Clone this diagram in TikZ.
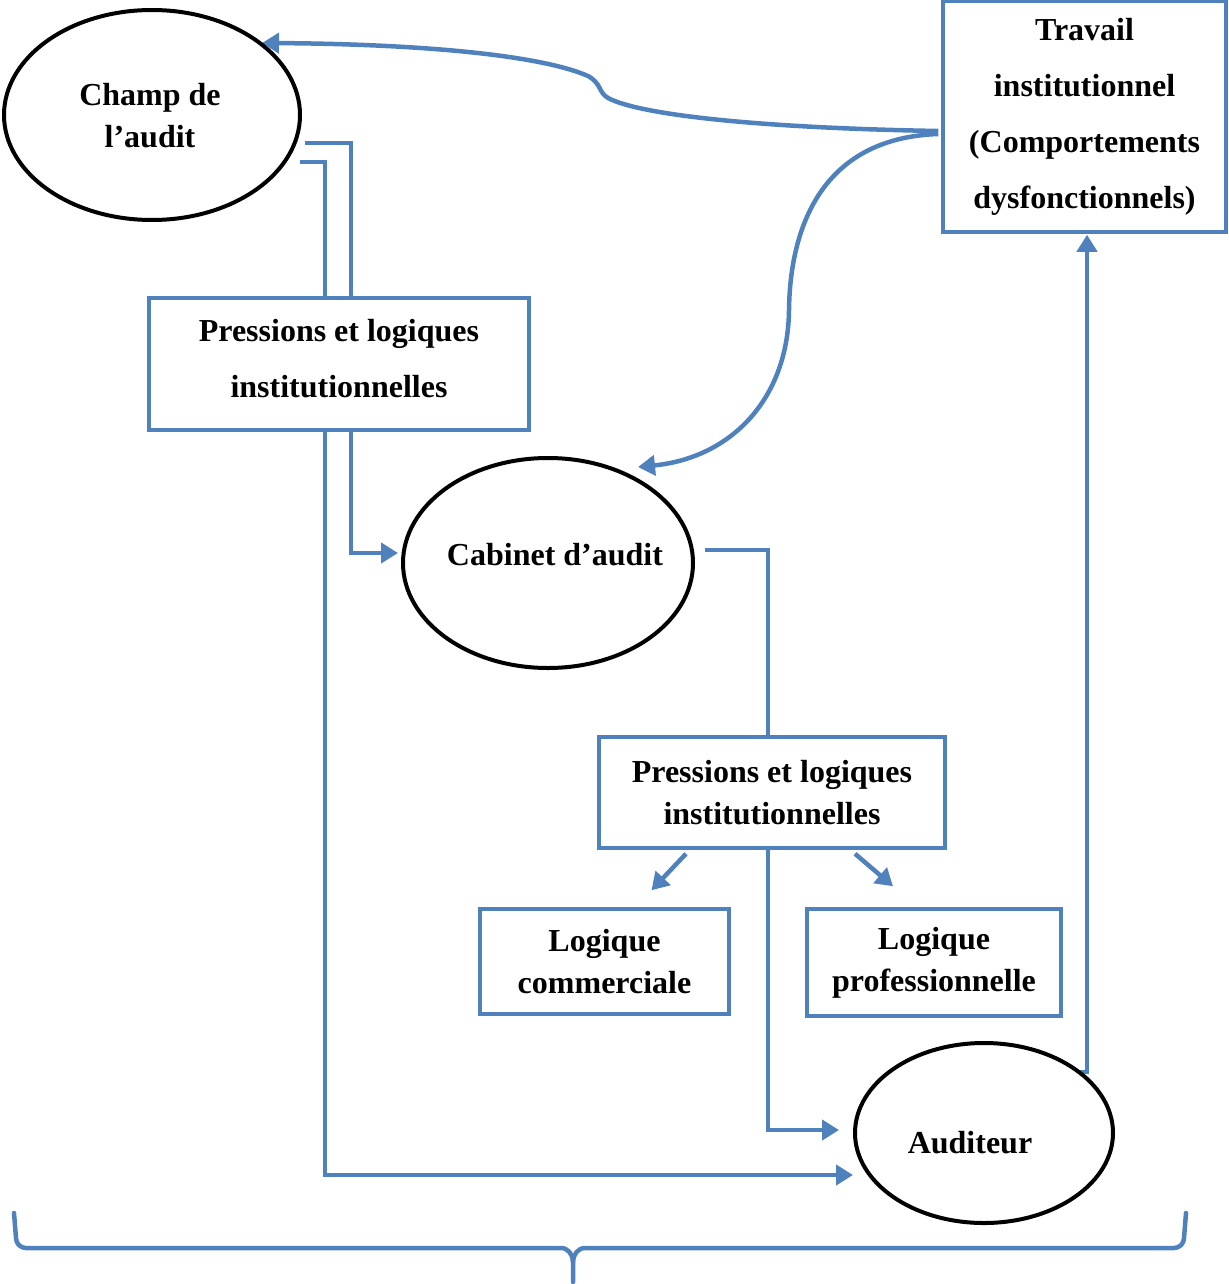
\documentclass[tikz,border=0pt]{standalone}
\usepackage{fontspec}
\setmainfont{Liberation Serif}
\usetikzlibrary{arrows.meta,shapes.geometric,calc,backgrounds}
\definecolor{officeblue}{RGB}{79,129,189}
\tikzset{
  txtA/.style={font=\bfseries\fontsize{32}{42}\selectfont, align=center},
  txtB/.style={font=\bfseries\fontsize{32}{56}\selectfont, align=center},
  actor/.style={ellipse, draw=black, line width=4pt, fill=white, inner sep=0pt},
  bluebox/.style={rectangle, draw=officeblue, line width=3.5pt, fill=white, inner sep=0pt},
  conn/.style={draw=officeblue, line width=4.5pt, -{Triangle[length=17pt,width=20pt]}},
  plainconn/.style={draw=officeblue, line width=4.5pt},
}
\begin{document}
\begin{tikzpicture}[x=1pt,y=-1pt]
\useasboundingbox (0,0) rectangle (1228,1284);

% actors (outlines, then their captions)
\node[actor, minimum width=296pt, minimum height=210pt] (champ) at (152,115) {};
\node[actor, minimum width=290pt, minimum height=210pt] (cab) at (548,563) {};
\node[actor, minimum width=258pt, minimum height=180pt] (aud) at (984,1133) {};
\node[txtA] (champlbl) at (150,116) {Champ de\\l’audit};
\node[txtA] (cablbl) at (555,555) {Cabinet d’audit};
\node[txtA] (audlbl) at (970,1143) {Auditeur};

% boxes
\node[bluebox, txtB, minimum width=283pt, minimum height=231pt] (trav) at (1084.5,116.5)
  {Travail\\institutionnel\\(Comportements\\dysfonctionnels)};
\node[bluebox, minimum width=380pt, minimum height=132pt] (p1) at (339,364) {};
\node[txtB] (p1lbl) at (339,359) {Pressions et logiques\\institutionnelles};
\node[bluebox, txtA, minimum width=346pt, minimum height=111pt] (p2) at (772,792.5)
  {Pressions et logiques\\institutionnelles};
\node[bluebox, txtA, minimum width=249pt, minimum height=105pt] (lc) at (604.5,961.5)
  {Logique\\commerciale};
\node[bluebox, txtA, minimum width=254pt, minimum height=107pt] (lp) at (934,962.5)
  {Logique\\professionnelle};

\begin{pgfonlayer}{background}
  % from the audit field down to the firm and to the auditor
  \draw[conn] ($(champ.east)+(3,28)$) -| ($(cab.west)+(-50,-10)$) -- ($(cab.west)+(-3,-10)$);
  \draw[conn] ($(champ.east)+(-2,47)$) -| ($(aud.west)+(-528,42)$) -- ($(aud.west)+(0,42)$);
  % from the firm down to the auditor
  \draw[conn] ($(cab.east)+(10,-13)$) -| ($(aud.west)+(-85,-3)$) -- ($(aud.west)+(-14,-3)$);
  % the two logics
  \draw[conn] ($(p2.south)+(-86,4)$) -- ($(lc.north)+(47,-17)$);
  \draw[conn] ($(p2.south)+(83,4)$) -- ($(lp.north)+(-41,-21)$);
  % auditor back up to institutional work
  \draw[conn] ($(aud.east)+(-38,-61)$) -| ($(trav.south)+(2.5,1)$);
  % institutional work feeding back
  \draw[conn] ($(trav.west)+(-3,14.5)$) .. controls (760,128) and (640,115) .. (608,98)
     .. controls (598,92) and (602,84) .. (588,76)
     .. controls (540,55) and (420,44) .. (262,43);
  \draw[conn] ($(trav.west)+(-3,17.5)$) .. controls (820,138) and (790,230) .. (789,310)
     .. controls (788,400) and (730,458) .. (638,467);
\end{pgfonlayer}

% overall brace
\coordinate (braceL) at (14,1213);
\coordinate (braceR) at (1186,1213);
\coordinate (braceTip) at (573,1282);
\draw[plainconn, line cap=round] (braceL) -- (16,1238) to[out=-90,in=180] (26,1248) -- (561,1248)
  to[out=0,in=90] (braceTip |- 0,1262) -- (braceTip);
\draw[plainconn, line cap=round] (braceTip |- 0,1262) to[out=90,in=180] (585,1248) -- (1174,1248)
  to[out=0,in=-90] (1184,1238) -- (braceR);
\end{tikzpicture}
\end{document}
